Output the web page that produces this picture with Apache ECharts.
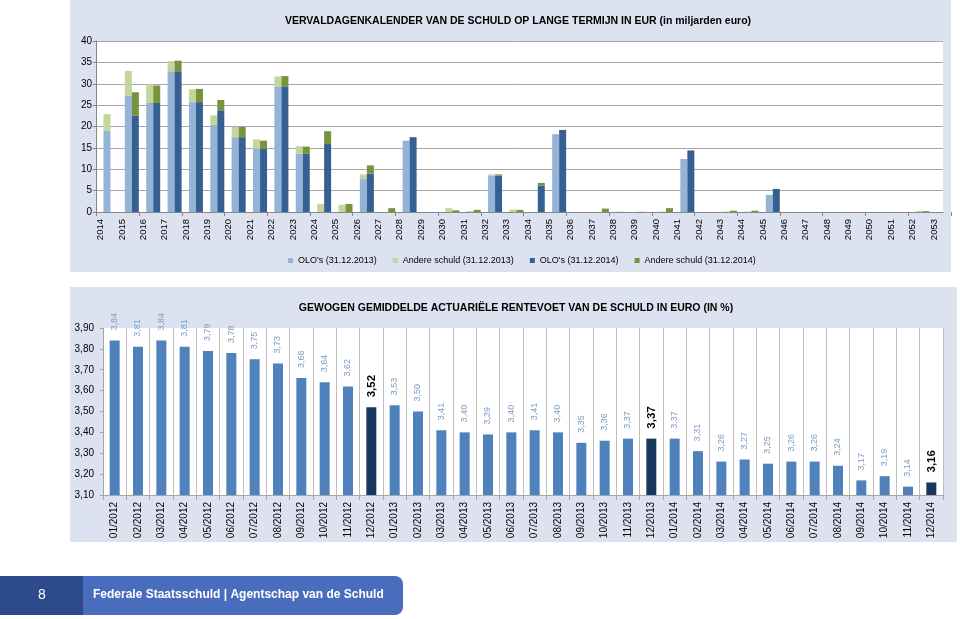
<!DOCTYPE html>
<html>
<head>
<meta charset="utf-8">
<script src="https://cdn.jsdelivr.net/npm/echarts@6/dist/echarts.min.js"></script>
<style>html,body{margin:0;padding:0;background:#fff}#c{width:960px;height:619px}</style>
</head>
<body>
<div id="c"></div>
<script>
// ---- Data: top chart (maturity calendar, billions EUR) ----
const years = ['2014','2015','2016','2017','2018','2019','2020','2021','2022','2023','2024','2025','2026','2027','2028','2029','2030','2031','2032','2033','2034','2035','2036','2037','2038','2039','2040','2041','2042','2043','2044','2045','2046','2047','2048','2049','2050','2051','2052','2053'];
const olo2013    = [19.0,27.2,25.5,32.9,25.7,20.4,17.5,14.8,29.4,13.6,0,0,7.7,0,16.7,0,0,0,8.5,0,0,18.2,0,0,0,0,0,12.4,0,0,0,4.0,0,0,0,0,0,0,0,0];
const andere2013 = [3.9,5.8,4.5,2.4,3.0,2.2,2.4,2.2,2.3,1.8,1.9,1.7,1.1,0,0,0,0.9,0.2,0.3,0.6,0,0,0,0,0.1,0.1,0.1,0,0,0.1,0.1,0,0,0,0,0,0,0,0.2,0];
const olo2014    = [0,22.5,25.5,32.9,25.7,23.8,17.5,14.8,29.4,13.6,15.9,0,9.0,0,17.5,0,0,0,8.5,0,6.2,19.2,0,0,0,0,0,14.4,0,0,0,5.4,0,0,0,0,0,0,0,0];
const andere2014 = [0,5.5,4.1,2.5,3.1,2.4,2.4,1.9,2.4,1.7,3.0,1.9,1.9,0.9,0,0,0.4,0.5,0.3,0.5,0.6,0,0,0.8,0,0,0.9,0,0,0.3,0.3,0,0,0,0,0,0,0,0.2,0];
const topSeriesNames = ["OLO's (31.12.2013)","Andere schuld (31.12.2013)","OLO's (31.12.2014)","Andere schuld (31.12.2014)"];

// ---- Data: bottom chart (weighted average rate, %) ----
const months = ['01/2012','02/2012','03/2012','04/2012','05/2012','06/2012','07/2012','08/2012','09/2012','10/2012','11/2012','12/2012',
                '01/2013','02/2013','03/2013','04/2013','05/2013','06/2013','07/2013','08/2013','09/2013','10/2013','11/2013','12/2013',
                '01/2014','02/2014','03/2014','04/2014','05/2014','06/2014','07/2014','08/2014','09/2014','10/2014','11/2014','12/2014'];
const rates = [3.84,3.81,3.84,3.81,3.79,3.78,3.75,3.73,3.66,3.64,3.62,3.52,
               3.53,3.50,3.41,3.40,3.39,3.40,3.41,3.40,3.35,3.36,3.37,3.37,
               3.37,3.31,3.26,3.27,3.25,3.26,3.26,3.24,3.17,3.19,3.14,3.16];
const highlightMonths = ['12/2012','12/2013','12/2014'];

const topTitle = 'VERVALDAGENKALENDER VAN DE SCHULD OP LANGE TERMIJN IN EUR (in miljarden euro)';
const bottomTitle = 'GEWOGEN GEMIDDELDE ACTUARIËLE RENTEVOET VAN DE SCHULD IN EURO (IN %)';
const footerPage = '8';
const footerText = 'Federale Staatsschuld | Agentschap van de Schuld';

// ---- Chart ----
const FONT = 'Liberation Sans, Arial, sans-serif';
const C = {lb:'#95b3d7', lg:'#c3d69b', db:'#376092', dg:'#77933c', bar:'#4f81bd', hi:'#17375e', panel:'#dce2ef'};
const fmt = v => Number(v).toFixed(2).replace('.', ',');

const chart = echarts.init(document.getElementById('c'), null, {renderer:'canvas'});

const rateData = rates.map((v,i) => {
  const hi = highlightMonths.includes(months[i]);
  return hi ? {value:v, itemStyle:{color:C.hi}, label:{color:'#000', fontWeight:'bold', fontSize:11.5}} : v;
});

const option = {
  animation:false,
  textStyle:{fontFamily:FONT},
  graphic:[
    {type:'rect', z:-10, shape:{x:70,y:0,width:881,height:272}, style:{fill:C.panel}},
    {type:'rect', z:-10, shape:{x:70,y:287,width:887,height:255}, style:{fill:C.panel}},
    {type:'rect', z:5, shape:{x:0,y:576,width:403,height:39,r:[0,8,8,0]}, style:{fill:'#4a6cbd'}},
    {type:'rect', z:6, shape:{x:0,y:576,width:83,height:39}, style:{fill:'#2d4a8c'}},
    {type:'text', z:7, x:42, y:595, style:{text:footerPage, fill:'#fff', font:'14px '+FONT, align:'center', verticalAlign:'middle'}},
    {type:'text', z:7, x:93, y:595, style:{text:footerText, fill:'#fff', font:'bold 12px '+FONT, align:'left', verticalAlign:'middle'}}
  ],
  title:[
    {text:topTitle, left:513, top:11, textAlign:'center', textStyle:{fontSize:10.5, fontWeight:'bold', color:'#000', fontFamily:FONT}},
    {text:bottomTitle, left:511, top:298, textAlign:'center', textStyle:{fontSize:10.5, fontWeight:'bold', color:'#000', fontFamily:FONT}}
  ],
  legend:{
    data:topSeriesNames, left:283, top:251, itemWidth:5, itemHeight:5, itemGap:16, icon:'rect',
    textStyle:{fontSize:9, color:'#000', fontFamily:FONT}
  },
  grid:[
    {left:96, top:41, width:847, height:171, show:true, backgroundColor:'#fff', borderWidth:0},
    {left:96.3, top:41, width:854.6, height:171, show:false},
    {left:103, top:328, width:840, height:167, show:true, backgroundColor:'#fff', borderWidth:0},
    {left:90, top:41, width:854.6, height:171, show:false}
  ],
  xAxis:[
    {gridIndex:0, type:'value', min:0, max:1, axisLine:{show:true, onZero:false, lineStyle:{color:'#868686'}}, axisTick:{show:false}, axisLabel:{show:false}, splitLine:{show:false}},
    {gridIndex:1, type:'category', data:years, axisLine:{show:false}, axisTick:{show:true, length:4, lineStyle:{color:'#868686'}}, axisLabel:{show:false}},
    {gridIndex:2, type:'category', data:months, axisLine:{lineStyle:{color:'#a6a6a6'}}, axisTick:{show:true, length:5, lineStyle:{color:'#a6a6a6'}},
      splitLine:{show:true, interval:0, lineStyle:{color:'#bfbfbf'}},
      axisLabel:{rotate:90, fontSize:10, color:'#000', margin:7, interval:0, fontFamily:FONT}},
    {gridIndex:3, type:'category', data:years, axisLine:{show:false}, axisTick:{show:false},
      axisLabel:{rotate:90, fontSize:9.5, color:'#000', margin:7, interval:0, fontFamily:FONT}}
  ],
  yAxis:[
    {gridIndex:0, type:'value', min:0, max:40, interval:5, axisLine:{show:true, lineStyle:{color:'#868686'}}, axisTick:{show:true, length:3, lineStyle:{color:'#868686'}},
      splitLine:{lineStyle:{color:'#a6a6a6'}}, axisLabel:{fontSize:10, color:'#000', margin:4, fontFamily:FONT}},
    {gridIndex:1, type:'value', min:0, max:40, show:false},
    {gridIndex:2, type:'value', min:3.1, max:3.9, interval:0.1, axisLine:{show:true, lineStyle:{color:'#a6a6a6'}}, axisTick:{show:true, length:3, lineStyle:{color:'#a6a6a6'}},
      splitLine:{show:false}, axisLabel:{fontSize:10, color:'#000', margin:9, formatter:fmt, fontFamily:FONT}},
    {gridIndex:3, type:'value', min:0, max:40, show:false}
  ],
  series:[
    {type:'bar', name:'_pad', xAxisIndex:1, yAxisIndex:1, stack:'a', barWidth:7, barGap:'0%', data:years.map(()=>0), itemStyle:{color:'rgba(0,0,0,0)'}, silent:true},
    {type:'bar', name:topSeriesNames[0], xAxisIndex:1, yAxisIndex:1, stack:'b', barWidth:7, barGap:'0%', data:olo2013, itemStyle:{color:C.lb}},
    {type:'bar', name:topSeriesNames[1], xAxisIndex:1, yAxisIndex:1, stack:'b', barWidth:7, barGap:'0%', data:andere2013, itemStyle:{color:C.lg}},
    {type:'bar', name:topSeriesNames[2], xAxisIndex:1, yAxisIndex:1, stack:'c', barWidth:7, barGap:'0%', data:olo2014, itemStyle:{color:C.db}},
    {type:'bar', name:topSeriesNames[3], xAxisIndex:1, yAxisIndex:1, stack:'c', barWidth:7, barGap:'0%', data:andere2014, itemStyle:{color:C.dg}},
    {type:'bar', name:'rente', xAxisIndex:2, yAxisIndex:2, barWidth:10, data:rateData, itemStyle:{color:C.bar},
      label:{show:true, position:'top', rotate:90, align:'left', verticalAlign:'middle', distance:10, fontSize:9, color:'#7d9cc4', formatter:p=>fmt(p.value), fontFamily:FONT}}
  ]
};
chart.setOption(option);
</script>
</body>
</html>
